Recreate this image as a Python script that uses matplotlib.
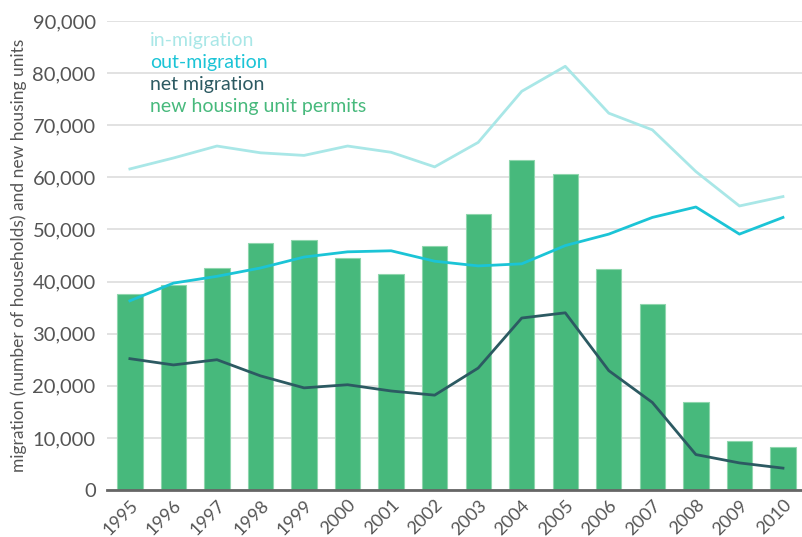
import matplotlib.pyplot as plt
import numpy as np

years = list(range(1995, 2011))
permits = [37600, 39400, 42600, 47300, 48000, 44500, 41500, 46800,
           53000, 63300, 60600, 42400, 35600, 16800, 9400, 8200]
in_migration = [61600, 63700, 66000, 64700, 64200, 66000, 64800, 62000,
                66700, 76500, 81300, 72300, 69100, 61100, 54500, 56300]
out_migration = [36300, 39700, 41000, 42600, 44700, 45700, 45900, 43900,
                 43000, 43400, 46900, 49100, 52300, 54300, 49100, 52300]
net_migration = [25200, 24000, 25000, 21900, 19600, 20200, 19000, 18200,
                 23400, 33000, 34000, 22900, 16800, 6800, 5200, 4200]

green = "#47b97c"
c_in = "#a9e7e7"
c_out = "#1bc4d6"
c_net = "#2c5a62"
txt = "#555555"

plt.rcParams["font.family"] = ["Lato", "DejaVu Sans"]

fig = plt.figure(figsize=(8.03, 5.37), dpi=100)
ax = fig.add_axes([0.133, 0.0875, 0.867, 0.8735])

x = np.arange(len(years))
ax.bar(x, permits, width=0.58, color=green, edgecolor="#8fd6ad", linewidth=0.8, zorder=2)
ax.plot(x, in_migration, color=c_in, lw=2, zorder=3)
ax.plot(x, out_migration, color=c_out, lw=2, zorder=3)
ax.plot(x, net_migration, color=c_net, lw=2, zorder=3)

ax.set_xlim(-0.53, 15.46)
ax.set_ylim(0, 90000)
ax.set_yticks(range(0, 90001, 10000))
ax.set_yticklabels([f"{v:,}" for v in range(0, 90001, 10000)], fontsize=14.5, color=txt)
ax.set_xticks(x)
ax.set_xticklabels([str(y) for y in years], rotation=45, ha="right",
                   rotation_mode="anchor", fontsize=13, color=txt)
ax.tick_params(axis="y", length=0, pad=8)
ax.tick_params(axis="x", length=0, pad=5)
ax.grid(axis="y", color="#dddddd", lw=1.2, zorder=0)
for s in ["top", "right", "left"]:
    ax.spines[s].set_visible(False)
ax.spines["bottom"].set_color("#666666")
ax.spines["bottom"].set_linewidth(2)
ax.spines["bottom"].set_zorder(4)

ax.set_ylabel("migration (number of households) and new housing units",
              fontsize=12.5, color=txt, labelpad=4)

labels = ["in-migration", "out-migration", "net migration", "new housing unit permits"]
colors = [c_in, c_out, c_net, green]
for i, (lab, c) in enumerate(zip(labels, colors)):
    ax.text(0.062, 0.958 - i * 0.047, lab, transform=ax.transAxes,
            color=c, fontsize=14, va="center", ha="left")

fig.savefig("out.png", dpi=100)
